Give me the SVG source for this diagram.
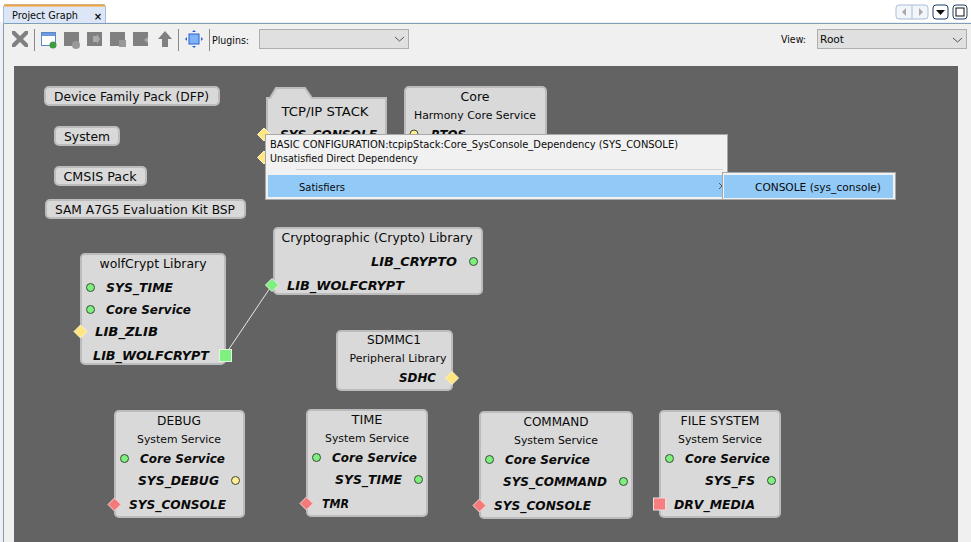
<svg xmlns="http://www.w3.org/2000/svg" width="971" height="542" viewBox="0 0 971 542">
<style>
text{font-family:"DejaVu Sans","Liberation Sans",sans-serif;fill:#0a0a0a}
.n{fill:#d9d9d9;stroke:#bcbcbc;stroke-width:2}
.t{font-size:12.5px;text-anchor:middle}
.s{font-size:10.5px;text-anchor:middle}
.p{font-size:13px;font-weight:bold;font-style:italic}
.u{font-size:11px}
.g{fill:#7df07d;stroke:#3c4a3c}
.yc{fill:#ffeb90;stroke:#3c4a3c}
.y{fill:#ffe680;stroke:#fff3c4}
.gd{fill:#7df07d;stroke:#e2f4e2}
.r{fill:#f47a7a;stroke:#f5dcdc}
.ic{fill:#808080}
.sep{stroke:#8a8a8a}
.combo{fill:#e0e0e0;stroke:#aeaeae}
.chev{fill:none;stroke:#555;stroke-width:1}
.menu{fill:#f1f1f1;stroke:#a8a8a8;stroke-width:1}
.sel{fill:#91c9f7}
.b{fill:#fff;stroke:#1e3f66;stroke-width:1}
</style>
<rect width="971" height="542" fill="#f0f0f0"/>
<rect width="971" height="22" fill="#fff"/>
<g id="tab">
<path d="M3.500 23V7Q3.500 4.500 6 4.500H103Q105.500 4.500 105.500 7V23" fill="#dce6f6" stroke="#a9bdd6"/>
<path d="M4 5.500H105" stroke="#f2a33a" stroke-width="2"/>
<text x="12" y="19" class="u" textLength="66" lengthAdjust="spacingAndGlyphs">Project Graph</text>
<text x="98" y="20" font-size="10" font-weight="bold" text-anchor="middle">×</text>
</g>
<path d="M3.500 542V23.500H971" fill="none" stroke="#7f9fc0"/>
<path d="M4 24.500H971" stroke="#f5f3e3"/>
<g id="toolbar">
<path d="M12 31l3 0 5 5 5-5 3 0 0 3-5 5 5 5 0 3-3 0-5-5-5 5-3 0 0-3 5-5-5-5z" class="ic"/>
<path class="sep" d="M34.500 29V51M178.500 29V51M209.500 29V51"/>
<rect x="41.500" y="32.500" width="14" height="13" fill="#fff" stroke="#5b87c6"/><rect x="42" y="33" width="13" height="3" fill="#6d9ade"/><circle cx="53" cy="45" r="3.500" fill="#3f9b3f"/>
<rect x="64" y="32" width="15" height="14" class="ic"/><circle cx="76" cy="45" r="4" fill="#999"/>
<rect x="87" y="32" width="15" height="14" class="ic"/><path d="M93 36h4v-2l3 5-3 5v-2h-4z" fill="#aaa"/>
<rect x="110" y="32" width="15" height="14" class="ic"/><rect x="119" y="40" width="7" height="7" fill="#999"/>
<rect x="133" y="32" width="15" height="14" class="ic"/><path d="M148 37l-4 3 4 3z" fill="#aaa"/>
<path d="M165 31l7 8h-4v8h-6v-8h-4z" class="ic"/>
<rect x="189" y="34" width="10" height="10" fill="#7fb4fa" stroke="#2b5fd0"/>
<path d="M194 30l2 2h-4zM194 48l2-2h-4zM185 39l2-2v4zM203 39l-2-2v4z" fill="#2b5fd0"/>
<text x="212" y="44" class="u" textLength="37" lengthAdjust="spacingAndGlyphs">Plugins:</text>
<rect x="259.500" y="29.500" width="149" height="19" class="combo"/>
<path d="M395 37l4.500 4 4.500-4" class="chev"/>
<text x="781" y="43" class="u" textLength="25" lengthAdjust="spacingAndGlyphs">View:</text>
<rect x="817.500" y="29.500" width="149" height="19" class="combo"/>
<text x="820" y="43" class="u" textLength="24" lengthAdjust="spacingAndGlyphs">Root</text>
<path d="M953 38l4.500 4 4.500-4" class="chev"/>
<rect x="896" y="5" width="32" height="14" rx="3" fill="#f2f6fb" stroke="#a9bdd6"/>
<path d="M912 5v14" stroke="#a9bdd6"/>
<path d="M906 8v8l-4-4zM919 8v8l4-4z" fill="#aaa"/>
<rect x="933" y="5" width="15" height="14" rx="3" class="b"/>
<path d="M936 10h9l-4.500 5z" fill="#111"/>
<rect x="953" y="5" width="14" height="14" rx="3" class="b"/>
<rect x="956" y="8" width="8" height="8" fill="none" stroke="#111"/>
</g>
<rect id="canvas" x="14" y="66" width="944" height="476" fill="#636363"/>
<g id="connectors"><path d="M225 355L272 285" stroke="#e8e8e8" fill="none"/></g>
<g id="dfp"><rect class="n" x="45" y="87" width="174" height="18" rx="4"/><text class="t" x="131.500" y="101" textLength="155" lengthAdjust="spacingAndGlyphs">Device Family Pack (DFP)</text></g>
<g id="system"><rect class="n" x="55" y="127" width="64" height="18" rx="4"/><text class="t" x="87" y="141" textLength="46" lengthAdjust="spacingAndGlyphs">System</text></g>
<g id="cmsis"><rect class="n" x="55" y="167" width="91" height="18" rx="4"/><text class="t" x="100" y="181" textLength="73" lengthAdjust="spacingAndGlyphs">CMSIS Pack</text></g>
<g id="bsp"><rect class="n" x="46" y="200" width="199" height="18" rx="4"/><text class="t" x="145" y="214" textLength="180" lengthAdjust="spacingAndGlyphs">SAM A7G5 Evaluation Kit BSP</text></g>
<g id="tcpip">
<path class="n" d="M267 180V98H270L276 88H305L312 98H386V180Z"/>
<text class="t" x="325" y="116" textLength="87" lengthAdjust="spacingAndGlyphs">TCP/IP STACK</text>
<text class="p" x="280" y="139" textLength="97" lengthAdjust="spacingAndGlyphs">SYS_CONSOLE</text>
<path class="y" d="M264 128l6.500 6.500-6.500 6.500-6.500-6.500z"/>
<path class="y" d="M264 151l6.500 6.500-6.500 6.500-6.500-6.500z"/>
</g>
<g id="core">
<rect class="n" x="405" y="87" width="141" height="90" rx="4"/>
<text class="t" x="475" y="101" textLength="29" lengthAdjust="spacingAndGlyphs">Core</text>
<text class="s" x="475" y="119" textLength="122" lengthAdjust="spacingAndGlyphs">Harmony Core Service</text>
<circle class="yc" cx="414" cy="134" r="4"/>
<text class="p" x="431" y="139" textLength="35" lengthAdjust="spacingAndGlyphs">RTOS</text>
</g>
<g id="crypto">
<rect class="n" x="274" y="228" width="208" height="66" rx="4"/>
<text class="t" x="377" y="242" textLength="191" lengthAdjust="spacingAndGlyphs">Cryptographic (Crypto) Library</text>
<text class="p" x="371" y="266" textLength="86" lengthAdjust="spacingAndGlyphs">LIB_CRYPTO</text>
<circle class="g" cx="473.500" cy="261.500" r="4"/>
<text class="p" x="287" y="290" textLength="117" lengthAdjust="spacingAndGlyphs">LIB_WOLFCRYPT</text>
<path class="gd" d="M272 278.500l6.500 6.500-6.500 6.500-6.500-6.500z"/>
</g>
<g id="wolfcrypt">
<rect class="n" x="81" y="254" width="144" height="110" rx="4"/>
<text class="t" x="153" y="268" textLength="107" lengthAdjust="spacingAndGlyphs">wolfCrypt Library</text>
<circle class="g" cx="90.500" cy="287.500" r="4"/>
<text class="p" x="106" y="292" textLength="67" lengthAdjust="spacingAndGlyphs">SYS_TIME</text>
<circle class="g" cx="90.500" cy="309.500" r="4"/>
<text class="p" x="106" y="314" textLength="85" lengthAdjust="spacingAndGlyphs">Core Service</text>
<path class="y" d="M80.500 325l6.500 6.500-6.500 6.500-6.500-6.500z"/>
<text class="p" x="95" y="336" textLength="63" lengthAdjust="spacingAndGlyphs">LIB_ZLIB</text>
<text class="p" x="93" y="360" textLength="116" lengthAdjust="spacingAndGlyphs">LIB_WOLFCRYPT</text>
<rect class="gd" x="219.500" y="349.500" width="12" height="12"/>
</g>
<g id="sdmmc1">
<rect class="n" x="337" y="331" width="115" height="59" rx="4"/>
<text class="t" x="394" y="344" textLength="54" lengthAdjust="spacingAndGlyphs">SDMMC1</text>
<text class="s" x="398" y="362" textLength="97" lengthAdjust="spacingAndGlyphs">Peripheral Library</text>
<text class="p" x="399" y="382" textLength="37" lengthAdjust="spacingAndGlyphs">SDHC</text>
<path class="y" d="M452 371.500l6.500 6.500-6.500 6.500-6.500-6.500z"/>
</g>
<g id="debug">
<rect class="n" x="115" y="411" width="129" height="106" rx="4"/>
<text class="t" x="179" y="425" textLength="44" lengthAdjust="spacingAndGlyphs">DEBUG</text>
<text class="s" x="179" y="443" textLength="84" lengthAdjust="spacingAndGlyphs">System Service</text>
<circle class="g" cx="124.500" cy="458.500" r="4"/>
<text class="p" x="140" y="463" textLength="85" lengthAdjust="spacingAndGlyphs">Core Service</text>
<text class="p" x="138" y="485" textLength="81" lengthAdjust="spacingAndGlyphs">SYS_DEBUG</text>
<circle class="yc" cx="235.500" cy="480.500" r="4"/>
<text class="p" x="129" y="509" textLength="97" lengthAdjust="spacingAndGlyphs">SYS_CONSOLE</text>
<path class="r" d="M114.500 498l6.500 6.500-6.500 6.500-6.500-6.500z"/>
</g>
<g id="time">
<rect class="n" x="307" y="410" width="120" height="106" rx="4"/>
<text class="t" x="367" y="424" textLength="31" lengthAdjust="spacingAndGlyphs">TIME</text>
<text class="s" x="367" y="442" textLength="84" lengthAdjust="spacingAndGlyphs">System Service</text>
<circle class="g" cx="316.500" cy="457.500" r="4"/>
<text class="p" x="332" y="462" textLength="85" lengthAdjust="spacingAndGlyphs">Core Service</text>
<text class="p" x="335" y="484" textLength="67" lengthAdjust="spacingAndGlyphs">SYS_TIME</text>
<circle class="g" cx="418.500" cy="479.500" r="4"/>
<text class="p" x="322" y="508" textLength="27" lengthAdjust="spacingAndGlyphs">TMR</text>
<path class="r" d="M306.500 497l6.500 6.500-6.500 6.500-6.500-6.500z"/>
</g>
<g id="command">
<rect class="n" x="480" y="412" width="152" height="106" rx="4"/>
<text class="t" x="556" y="426" textLength="65" lengthAdjust="spacingAndGlyphs">COMMAND</text>
<text class="s" x="556" y="444" textLength="84" lengthAdjust="spacingAndGlyphs">System Service</text>
<circle class="g" cx="489.500" cy="459.500" r="4"/>
<text class="p" x="505" y="464" textLength="85" lengthAdjust="spacingAndGlyphs">Core Service</text>
<text class="p" x="503" y="486" textLength="104" lengthAdjust="spacingAndGlyphs">SYS_COMMAND</text>
<circle class="g" cx="623.500" cy="481.500" r="4"/>
<text class="p" x="494" y="510" textLength="97" lengthAdjust="spacingAndGlyphs">SYS_CONSOLE</text>
<path class="r" d="M479.500 499l6.500 6.500-6.500 6.500-6.500-6.500z"/>
</g>
<g id="filesystem">
<rect class="n" x="660" y="411" width="120" height="106" rx="4"/>
<text class="t" x="720" y="425" textLength="79" lengthAdjust="spacingAndGlyphs">FILE SYSTEM</text>
<text class="s" x="720" y="443" textLength="84" lengthAdjust="spacingAndGlyphs">System Service</text>
<circle class="g" cx="669.500" cy="458.500" r="4"/>
<text class="p" x="685" y="463" textLength="85" lengthAdjust="spacingAndGlyphs">Core Service</text>
<text class="p" x="705" y="485" textLength="50" lengthAdjust="spacingAndGlyphs">SYS_FS</text>
<circle class="g" cx="771.500" cy="480.500" r="4"/>
<text class="p" x="674" y="509" textLength="81" lengthAdjust="spacingAndGlyphs">DRV_MEDIA</text>
<rect x="653.500" y="498" width="12" height="12" fill="#f87f7f" stroke="#eedcdc"/>
</g>
<g id="menu">
<rect class="menu" x="265.500" y="134.500" width="462" height="65"/>
<rect class="sel" x="268" y="175" width="457" height="22"/>
<path d="M296 169.500H723" stroke="#d4d4d4"/>
<text x="270" y="148" class="u" textLength="408" lengthAdjust="spacingAndGlyphs">BASIC CONFIGURATION:tcpipStack:Core_SysConsole_Dependency (SYS_CONSOLE)</text>
<text x="270" y="162" class="u" textLength="148" lengthAdjust="spacingAndGlyphs">Unsatisfied Direct Dependency</text>
<text x="299" y="191" class="u" textLength="46" lengthAdjust="spacingAndGlyphs">Satisfiers</text>
<path d="M719 183l3 3-3 3" class="chev"/>
<rect class="menu" x="722.500" y="172.500" width="173" height="27"/>
<rect class="sel" x="724" y="175" width="169" height="23"/>
<text x="755" y="191" class="u" textLength="126" lengthAdjust="spacingAndGlyphs">CONSOLE (sys_console)</text>
</g>
</svg>
